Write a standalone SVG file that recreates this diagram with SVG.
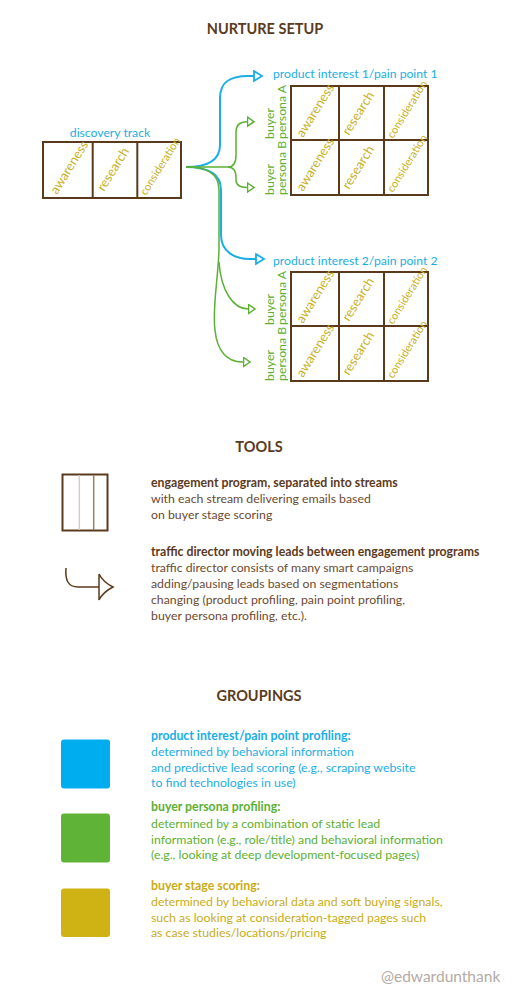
<svg xmlns="http://www.w3.org/2000/svg" width="513" height="998" viewBox="0 0 513 998">
<style>
text{font-family:Lato,"Open Sans","Liberation Sans",sans-serif}
.h{font-weight:bold;font-size:14.5px;fill:#5b3a1c;text-anchor:middle}
.box{fill:#fff;stroke:#5b3a1c;stroke-width:2}
.div{stroke:#5b3a1c;stroke-width:2}
.st{fill:#c9b01c;font-size:13px}
.sc{fill:#c9b01c;font-size:11px}
.gl{fill:#5cb033;font-size:12.3px}
.bl{fill:#1aaee6;font-size:12.2px}
.bb{fill:none;stroke:#1aaee6;stroke-width:2}
.gg{fill:none;stroke:#5cb033;stroke-width:1.5}
.tb{font-size:12.3px;font-weight:bold}
.tx{font-size:12.3px}
</style>
<defs>
<marker id="ab" markerUnits="userSpaceOnUse" markerWidth="12" markerHeight="14" refX="9" refY="6" orient="auto"><path d="M1,1 L9,6 L1,11 Z" fill="#fff" stroke="#1aaee6" stroke-width="1.8"/></marker>
<marker id="ag" markerUnits="userSpaceOnUse" markerWidth="10" markerHeight="12" refX="7.5" refY="5.5" orient="auto"><path d="M1,1 L7.5,5.5 L1,10 Z" fill="#fff" stroke="#5cb033" stroke-width="1.5"/></marker>
<marker id="ar" markerUnits="userSpaceOnUse" markerWidth="18" markerHeight="30" refX="15" refY="14" orient="auto"><path d="M1,1 Q5,9 15,14 Q5,19 1,27 Z" fill="#fff" stroke="#5b3a1c" stroke-width="1.5"/></marker>
</defs>

<text class="h" x="265" y="34">NURTURE SETUP</text>

<g id="discovery">
<text class="bl" x="110" y="137" text-anchor="middle">discovery track</text>
<rect class="box" x="43" y="142" width="138" height="56"/>
<line class="div" x1="92.7" y1="142" x2="92.7" y2="198"/>
<line class="div" x1="137.3" y1="142" x2="137.3" y2="198"/>
<text class="st" x="57" y="195" transform="rotate(-58 57 195)">awareness</text>
<text class="st" x="104" y="192" transform="rotate(-58 104 192)">research</text>
<text class="sc" x="146" y="196" transform="rotate(-58 146 196)">consideration</text>
</g>

<g id="connectors">
<path class="bb" d="M186,167 C205,167 220,162 220,145 L220,98 C220,82 230,76 248,76 L262,76" marker-end="url(#ab)"/>
<path class="bb" d="M186,167 C205,167 221,172 221,190 L221,235 C221,252 235,259 250,259 L264,259" marker-end="url(#ab)"/>
<path class="gg" d="M186,167 L228,167"/>
<path class="gg" d="M228,167 C234,167 236,162 236,155 L236,132 C236,125 240,121.7 247,121.7 L254,121.7" marker-end="url(#ag)"/>
<path class="gg" d="M228,167 C234,167 236,172 236,178 L236,180 C236,185 240,187.5 247,187.5 L254,187.5" marker-end="url(#ag)"/>
<path class="gg" d="M186,167 C205,167 219,172 219,190 L219,250 C218,280 212,310 215,330 C217,352 228,362 242,362 L250,362" marker-end="url(#ag)"/>
<path class="gg" d="M219,262 C221,292 234,309 248,309 L255,309" marker-end="url(#ag)"/>
</g>

<g id="pi1">
<text class="bl" x="273" y="78">product interest 1/pain point 1</text>
<rect class="box" x="291" y="86" width="137" height="109"/>
<line class="div" x1="339" y1="86" x2="339" y2="195"/>
<line class="div" x1="384" y1="86" x2="384" y2="195"/>
<line class="div" x1="291" y1="140" x2="428" y2="140"/>
<text class="gl" transform="translate(274 139) rotate(-90)">buyer</text>
<text class="gl" transform="translate(285.5 139) rotate(-90)">persona A</text>
<text class="gl" transform="translate(274 195) rotate(-90)">buyer</text>
<text class="gl" transform="translate(285.5 195) rotate(-90)">persona B</text>
<text class="st" transform="translate(303 138) rotate(-58)">awareness</text>
<text class="st" transform="translate(349 136) rotate(-58)">research</text>
<text class="sc" transform="translate(393 139) rotate(-58)">consideration</text>
<text class="st" transform="translate(303 192) rotate(-58)">awareness</text>
<text class="st" transform="translate(349 190) rotate(-58)">research</text>
<text class="sc" transform="translate(393 193) rotate(-58)">consideration</text>
</g>

<g id="pi2">
<text class="bl" x="273" y="265">product interest 2/pain point 2</text>
<rect class="box" x="291" y="272" width="137" height="109"/>
<line class="div" x1="339" y1="272" x2="339" y2="381"/>
<line class="div" x1="384" y1="272" x2="384" y2="381"/>
<line class="div" x1="291" y1="326" x2="428" y2="326"/>
<text class="gl" transform="translate(274 325) rotate(-90)">buyer</text>
<text class="gl" transform="translate(285.5 325) rotate(-90)">persona A</text>
<text class="gl" transform="translate(274 381) rotate(-90)">buyer</text>
<text class="gl" transform="translate(285.5 381) rotate(-90)">persona B</text>
<text class="st" transform="translate(303 324) rotate(-58)">awareness</text>
<text class="st" transform="translate(349 322) rotate(-58)">research</text>
<text class="sc" transform="translate(393 325) rotate(-58)">consideration</text>
<text class="st" transform="translate(303 378) rotate(-58)">awareness</text>
<text class="st" transform="translate(349 376) rotate(-58)">research</text>
<text class="sc" transform="translate(393 379) rotate(-58)">consideration</text>
</g>

<text class="h" x="259" y="452">TOOLS</text>

<g id="tool-program">
<rect x="62.5" y="474.5" width="45" height="56" fill="#fff" stroke="#5b3a1c" stroke-width="2"/>
<line x1="79.3" y1="475" x2="79.3" y2="530" stroke="#d6ccc4" stroke-width="1.5"/>
<line x1="93.7" y1="475" x2="93.7" y2="530" stroke="#9a7d66" stroke-width="1.5"/>
<text x="151" y="487" class="tb" fill="#5b3a1c">engagement program, separated into streams</text>
<text x="151" y="503" class="tx" fill="#6b4a30">with each stream delivering emails based</text>
<text x="151" y="519" class="tx" fill="#6b4a30">on buyer stage scoring</text>
</g>

<g id="tool-director">
<path d="M66,568 C65,580 68,587 78,587 L113,587" fill="none" stroke="#5b3a1c" stroke-width="1.5" marker-end="url(#ar)"/>
<text x="151" y="556" class="tb" fill="#5b3a1c">traffic director moving leads between engagement programs</text>
<text x="151" y="572" class="tx" fill="#6b4a30">traffic director consists of many smart campaigns</text>
<text x="151" y="587.5" class="tx" fill="#6b4a30">adding/pausing leads based on segmentations</text>
<text x="151" y="603.5" class="tx" fill="#6b4a30">changing (product profiling, pain point profiling,</text>
<text x="151" y="619.5" class="tx" fill="#6b4a30">buyer persona profiling, etc.).</text>
</g>

<text class="h" x="259" y="701">GROUPINGS</text>

<g id="group-product" fill="#1aaee6">
<rect x="61" y="739.5" width="49" height="49" rx="3" fill="#00aeef"/>
<text x="151" y="740" class="tb">product interest/pain point profiling:</text>
<text x="151" y="756" class="tx">determined by behavioral information</text>
<text x="151" y="772" class="tx">and predictive lead scoring (e.g., scraping website</text>
<text x="151" y="787" class="tx">to find technologies in use)</text>
</g>

<g id="group-persona" fill="#5cb033">
<rect x="61" y="813.5" width="49" height="49" rx="3" fill="#5fb336"/>
<text x="151" y="811" class="tb">buyer persona profiling:</text>
<text x="151" y="827.5" class="tx">determined by a combination of static lead</text>
<text x="151" y="843.5" class="tx">information (e.g., role/title) and behavioral information</text>
<text x="151" y="858.5" class="tx">(e.g., looking at deep development-focused pages)</text>
</g>

<g id="group-stage" fill="#c9ac14">
<rect x="61" y="888.5" width="49" height="48.5" rx="3" fill="#cfb315"/>
<text x="151" y="890" class="tb">buyer stage scoring:</text>
<text x="151" y="906" class="tx">determined by behavioral data and soft buying signals,</text>
<text x="151" y="922" class="tx">such as looking at consideration-tagged pages such</text>
<text x="151" y="937" class="tx">as case studies/locations/pricing</text>
</g>

<text x="381" y="982" font-size="15.5" fill="#b4aaa4">@edwardunthank</text>
</svg>
